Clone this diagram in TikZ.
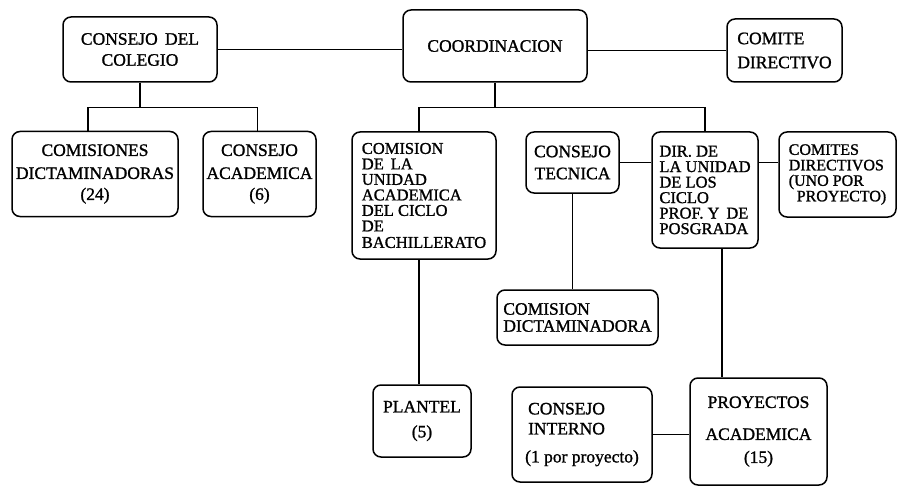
\documentclass[tikz,border=0pt]{standalone}
\usepackage{fontspec}
\setmainfont{Liberation Serif}[FakeBold=1.2]
\begin{document}
\begin{tikzpicture}[x=1pt,y=-1pt,
  box/.style={draw, rounded corners=8pt, line width=1.5pt, inner sep=0pt,
    font=\fontsize{17.5}{15}\selectfont},
  tight/.style={font=\fontsize{16.5}{15.5}\selectfont},
  conn/.style={line width=1.5pt}]
\useasboundingbox[fill=white] (0,0) rectangle (898,487);
% top row
\node[box, minimum width=154, minimum height=65, align=center] (colegio) at (140,49.5)
  {CONSEJO\, DEL\\[6pt]COLEGIO};
\node[box, minimum width=184, minimum height=72, align=center] (coord) at (495,46)
  {COORDINACION};
\node[box, minimum width=115, minimum height=63, align=left] (comite) at (784.5,50.5)
  {COMITE\\[9pt]DIRECTIVO};
% second row
\node[box, minimum width=166, minimum height=85, align=center] (comisiones) at (95,174)
  {COMISIONES\\[8pt]DICTAMINADORAS\\[6pt](24)};
\node[box, minimum width=113, minimum height=85, align=center] (consejoac) at (259.5,174)
  {CONSEJO\\[8pt]ACADEMICA\\[6pt](6)};
\node[box, tight, minimum width=144, minimum height=127, align=left] (bach) at (424,195.5)
  {COMISION\\DE\, LA\\UNIDAD\\ACADEMICA\\DEL CICLO\\DE\\[1pt]BACHILLERATO};
\node[box, minimum width=93, minimum height=61, align=center] (tecnica) at (572.5,162.5)
  {CONSEJO\\[7pt]TECNICA};
\node[box, tight, minimum width=106, minimum height=116, align=left] (dir) at (705,190)
  {DIR. DE\\LA UNIDAD\\DE LOS\\CICLO\\PROF. Y\, DE\\POSGRADA};
\node[box, font=\fontsize{16}{15.5}\selectfont, minimum width=117, minimum height=85, align=left] (comites) at (837.5,174.5)
  {COMITES\\DIRECTIVOS\\(UNO POR\\\hspace*{8pt}PROYECTO)};
% lower rows
\node[box, minimum width=161, minimum height=55, align=left] (comdict) at (577.5,317.5)
  {COMISION\\[2pt]DICTAMINADORA};
\node[box, minimum width=98, minimum height=72, align=center] (plantel) at (422,421)
  {PLANTEL\\[10pt](5)};
\node[box, minimum width=140, minimum height=95, align=left] (interno) at (582,434.5)
  {\hspace*{3pt}CONSEJO\\[5pt]\hspace*{3pt}INTERNO\\[13pt](1 por proyecto)};
\node[box, minimum width=137, minimum height=107, align=center] (proyectos) at (758.5,431.5)
  {PROYECTOS\\[17pt]ACADEMICA\\[8pt](15)};
% connectors
\draw[conn] (colegio.east) -- (colegio.east -| coord.west);
\draw[conn] (coord.east |- comite.west) -- (comite.west);
\draw[conn] (colegio.south) -- ++(0,25) coordinate (cb);
\draw[conn] ([xshift=-7pt]comisiones.north) |- (cb) -| ([xshift=-2pt]consejoac.north);
\draw[conn] (coord.south) -- ++(0,25) coordinate (kb);
\draw[conn] ([xshift=-5pt]bach.north) |- (kb) -| (dir.north);
\draw[conn] (tecnica.east) -- (tecnica.east -| dir.west);
\draw[conn] (tecnica.east -| dir.east) -- (tecnica.east -| comites.west);
\draw[conn] (tecnica.south) -- (tecnica.south |- comdict.north);
\draw[conn] ([xshift=17pt]dir.south) -- ([xshift=17pt]dir.south |- proyectos.north);
\draw[conn] ([xshift=-3pt]plantel.north |- bach.south) -- ([xshift=-3pt]plantel.north);
\draw[conn] (interno.east) -- (interno.east -| proyectos.west);
\end{tikzpicture}
\end{document}
